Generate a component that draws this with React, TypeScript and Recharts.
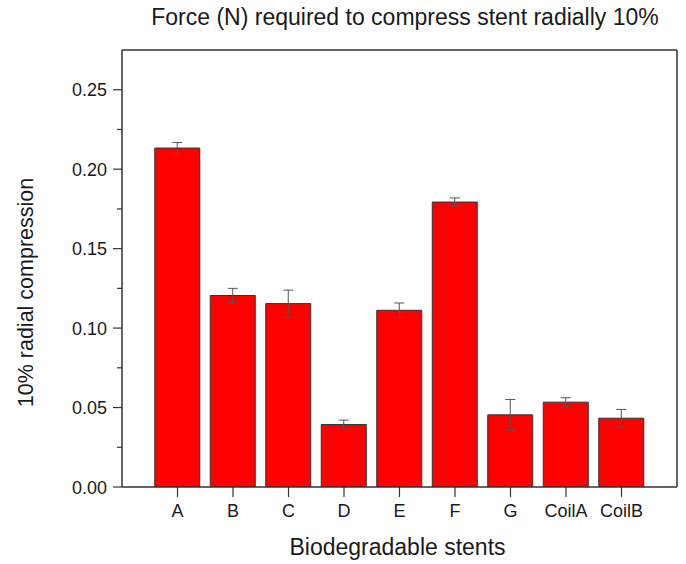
import { BarChart, Bar, XAxis, YAxis, ErrorBar, ReferenceLine } from 'recharts';

const categories = ['A', 'B', 'C', 'D', 'E', 'F', 'G', 'CoilA', 'CoilB'];
const positions = [1, 2, 3, 4, 5, 6, 7, 8, 9];
const forces = [0.2133, 0.1205, 0.1154, 0.0393, 0.1112, 0.1793, 0.0454, 0.0534, 0.0433];
const errors = [0.0035, 0.0045, 0.0085, 0.0028, 0.0046, 0.0026, 0.0097, 0.0028, 0.0055];
const yTicks = [0, 0.025, 0.05, 0.075, 0.1, 0.125, 0.15, 0.175, 0.2, 0.225, 0.25];
const yMax = 0.275;
const xMax = 10;

const data = categories.map((name, i) => ({ name, x: positions[i], force: forces[i], err: errors[i] }));

const font = 'Arial, "Liberation Sans", sans-serif';
const axisColor = '#333';
const textColor = '#1a1a1a';

const YTick = ({ x, y, payload }: any) => {
  const major = Math.round(payload.value * 1000) % 50 === 0;
  return (
    <g>
      <line x1={x - (major ? 9 : 5)} x2={x} y1={y} y2={y} stroke={axisColor} strokeWidth={1.2} />
      {major && (
        <text x={x - 15} y={y} dy={6.5} textAnchor="end" fontSize={18} fill={textColor} fontFamily={font}>
          {payload.value.toFixed(2)}
        </text>
      )}
    </g>
  );
};

const XTick = ({ x, y, payload }: any) => (
  <g>
    <line x1={x} x2={x} y1={y} y2={y + 10} stroke={axisColor} strokeWidth={1.2} />
    <text x={x} y={y + 30} textAnchor="middle" fontSize={18} fill={textColor} fontFamily={font}>
      {categories[positions.indexOf(payload.value)]}
    </text>
  </g>
);

const XTitle = ({ viewBox }: any) => (
  <text x={viewBox.x + viewBox.width / 2 - 2} y={555} textAnchor="middle" fontSize={23} fill={textColor} fontFamily={font}>
    Biodegradable stents
  </text>
);

const YTitle = ({ viewBox }: any) => {
  const cx = 25;
  const cy = viewBox.y + viewBox.height / 2 + 24;
  return (
    <text x={cx} y={cy} transform={`rotate(-90 ${cx} ${cy})`} textAnchor="middle" dy={8} fontSize={21.5} fill={textColor} fontFamily={font}>
      10% radial compression
    </text>
  );
};

export default function App() {
  return (
    <div style={{ position: 'absolute', left: 0, top: 0, width: 686, height: 564, background: '#fff', fontFamily: font }}>
      <div style={{ position: 'absolute', left: 0, width: 686, top: 6, lineHeight: '23px', paddingLeft: 124, boxSizing: 'border-box', textAlign: 'center', fontSize: 23, color: textColor }}>
        Force (N) required to compress stent radially 10%
      </div>
      <BarChart width={686} height={564} data={data} margin={{ top: 50, right: 9, bottom: 0, left: 0 }}>
        <XAxis
          dataKey="x"
          type="number"
          domain={[0, xMax]}
          ticks={positions}
          tick={<XTick />}
          tickSize={0}
          tickMargin={0}
          height={77}
          stroke={axisColor}
          strokeWidth={1.5}
          label={<XTitle />}
        />
        <YAxis
          type="number"
          domain={[0, yMax]}
          ticks={yTicks}
          tick={<YTick />}
          tickSize={0}
          tickMargin={0}
          width={122}
          stroke={axisColor}
          strokeWidth={1.5}
          allowDataOverflow
          label={<YTitle />}
        />
        <ReferenceLine y={yMax} stroke={axisColor} strokeWidth={1.5} />
        <ReferenceLine x={xMax} stroke={axisColor} strokeWidth={1.5} />
        <Bar dataKey="force" fill="#ff0000" stroke="#333" strokeWidth={1} barSize={45} isAnimationActive={false}>
          <ErrorBar dataKey="err" width={5} stroke="#555" strokeWidth={1} />
        </Bar>
      </BarChart>
    </div>
  );
}
